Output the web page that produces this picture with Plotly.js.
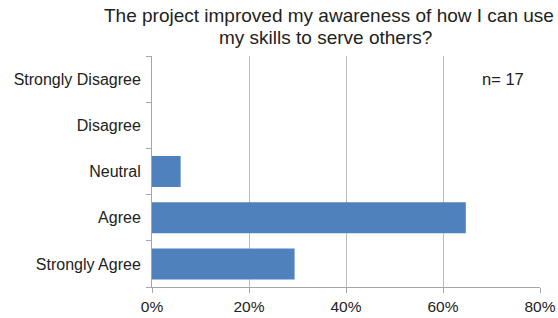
<!DOCTYPE html>
<html>
<head>
<meta charset="utf-8">
<script src="https://cdn.plot.ly/plotly-3.0.1.min.js"></script>
<style>html,body{margin:0;padding:0;background:#fff;}#chart{width:558px;height:318px;}</style>
</head>
<body>
<div id="chart"></div>
<script>
var categories = ["Strongly Disagree", "Disagree", "Neutral", "Agree", "Strongly Agree"];
var shares = [0, 0, 0.059, 0.647, 0.294];
var xTickVals = [0, 0.2, 0.4, 0.6, 0.8];
var xTickText = ["0%", "20%", "40%", "60%", "80%"];
var titleLines = ["The project improved my awareness of how I can use", "my skills to serve others?"];
var noteText = "n= 17";

var font = "Liberation Sans, Arial, sans-serif";
var trace = {
  type: "bar",
  orientation: "h",
  x: shares,
  y: categories,
  marker: {color: "#4f81bd", line: {width: 0}},
  hoverinfo: "none"
};
var titleY = [1.177, 1.080];
var titleX = [0.456, 0.448];
var annotations = titleLines.map(function (t, i) {
  return {
    text: t, xref: "paper", yref: "paper",
    x: titleX[i], y: titleY[i], xanchor: "center", yanchor: "middle",
    showarrow: false, font: {family: font, size: 19, color: "#222"}
  };
});
annotations.push({
  text: noteText, xref: "paper", yref: "paper",
  x: 0.965, y: 0.9, xanchor: "right", yanchor: "middle",
  showarrow: false, font: {family: font, size: 16.5, color: "#222"}
});
var layout = {
  width: 558, height: 318,
  margin: {l: 152, r: 18, t: 56, b: 31},
  paper_bgcolor: "#fff", plot_bgcolor: "#fff",
  font: {family: font, size: 16, color: "#222"},
  bargap: 0.33,
  showlegend: false,
  xaxis: {
    range: [0, 0.8],
    tickvals: xTickVals, ticktext: xTickText,
    showgrid: true, gridcolor: "#bdbdbd", gridwidth: 1,
    zeroline: false,
    showline: true, linecolor: "#a6a6a6", linewidth: 1,
    ticks: "outside", ticklen: 5, tickcolor: "#a6a6a6",
    tickfont: {family: font, size: 15.5, color: "#222"},
    fixedrange: true
  },
  yaxis: {
    type: "category",
    categoryorder: "array", categoryarray: categories.slice().reverse(),
    showgrid: false, zeroline: false,
    showline: true, linecolor: "#a6a6a6", linewidth: 1,
    ticks: "outside", ticklen: 5, tickcolor: "#a6a6a6",
    tickson: "boundaries",
    tickfont: {family: font, size: 16, color: "#222"},
    ticklabelstandoff: 7,
    fixedrange: true
  },
  annotations: annotations
};
Plotly.newPlot("chart", [trace], layout, {displayModeBar: false, staticPlot: true});
</script>
</body>
</html>
